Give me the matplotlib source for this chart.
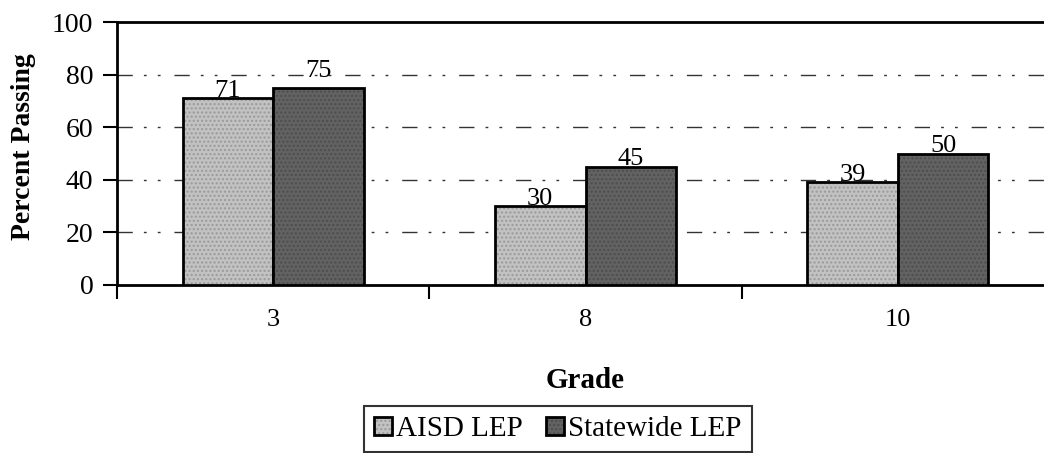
import numpy as np
import matplotlib.pyplot as plt

# --- DATA ---
grades = ["3", "8", "10"]
aisd_lep = [71, 30, 39]
statewide_lep = [75, 45, 50]
series_names = ["AISD LEP", "Statewide LEP"]

# --- STYLE ---
plt.rcParams["font.family"] = ["Liberation Serif", "DejaVu Serif"]
light_gray = "#c2c2c2"
dark_gray = "#626262"

fig = plt.figure(figsize=(10.44, 4.53), dpi=100)
# axes runs off the right edge, like the original
ax = fig.add_axes([117 / 1044, 1 - 285 / 453, (1054 - 117) / 1044, (285 - 22) / 453])

x = np.arange(len(grades))
w = 0.29

b1 = ax.bar(x - w / 2, aisd_lep, w, color=light_gray, edgecolor="black",
            linewidth=2, hatch="....", label=series_names[0], zorder=3)
b2 = ax.bar(x + w / 2, statewide_lep, w, color=dark_gray, edgecolor="black",
            linewidth=2, hatch="....", label=series_names[1], zorder=3)
for p in b1:
    p._hatch_color = (0.6, 0.6, 0.6, 1)
for p in b2:
    p._hatch_color = (0.3, 0.3, 0.3, 1)

# value labels sit on the bar tops (75 is nudged up above the gridline)
for bars, vals in ((b1, aisd_lep), (b2, statewide_lep)):
    for p, v in zip(bars, vals):
        off = 8 if v == 75 else 1
        ax.annotate(str(v), (p.get_x() + p.get_width() / 2, v), xytext=(0, off),
                    textcoords="offset points", ha="center", va="baseline",
                    fontsize=19, zorder=4)

ax.set_ylim(0, 100)
ax.set_xlim(-0.5, 2.5)
ax.set_yticks([0, 20, 40, 60, 80, 100])
ax.tick_params(axis="y", labelsize=20, length=10, width=1.5, direction="out", pad=7)

# category ticks at boundaries, labels centred
ax.set_xticks([-0.5, 0.5, 1.5, 2.5])
ax.set_xticklabels([])
ax.set_xticks(x, minor=True)
ax.set_xticklabels(grades, minor=True)
ax.tick_params(axis="x", which="major", length=10, width=1.5, direction="out")
ax.tick_params(axis="x", which="minor", length=0, labelsize=19, pad=17)

for yv in [20, 40, 60, 80]:
    ax.axhline(yv, color="#333333", linewidth=1,
               linestyle=(0, (11, 8, 2, 8, 2, 10)), zorder=1)

ax.spines["right"].set_visible(False)
for s in ("left", "bottom", "top"):
    ax.spines[s].set_linewidth(2)

ax.set_ylabel("Percent Passing", fontsize=20, fontweight="bold")
ax.yaxis.set_label_coords((24 - 117) / 937, (285 - 147) / 263)
ax.yaxis.label.set_va("center")
ax.set_xlabel("Grade", fontsize=21, fontweight="bold")
ax.xaxis.set_label_coords(0.5, (285 - 380) / 263)
ax.xaxis.label.set_va("center")

leg = fig.legend(handles=[b1, b2], loc="upper center", bbox_to_anchor=(558 / 1044, 1 - 406 / 453),
                 ncol=2, fontsize=21, frameon=True, fancybox=False, edgecolor="black",
                 handlelength=0.6, handleheight=0.6, handletextpad=0.15, columnspacing=0.8,
                 borderpad=0.35, borderaxespad=0)
leg.get_frame().set_linewidth(1.5)

fig.savefig("out.png", dpi=100)
